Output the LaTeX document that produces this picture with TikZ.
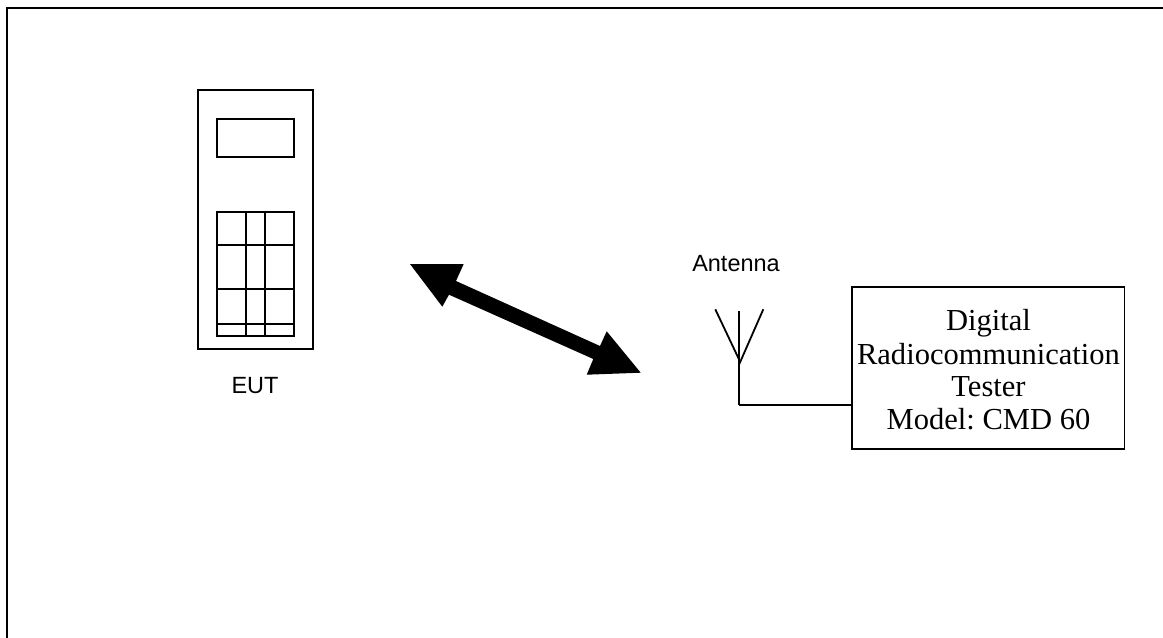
\documentclass[tikz,border=0pt]{standalone}
\usepackage{fontspec}
\setmainfont{Liberation Serif}
\newfontfamily\labelsans{Liberation Sans}
\begin{document}
\frenchspacing
\begin{tikzpicture}[x=0.75pt,y=-0.75pt,
  line/.style={draw=black,line width=1.4pt},
  thin line/.style={draw=black,line width=1.35pt},
  sanslabel/.style={font=\labelsans\fontsize{17.6}{20}\selectfont,anchor=base,inner sep=0pt},
  serifline/.style={font=\fontsize{22.9}{26}\selectfont,anchor=base,inner sep=0pt}]
\useasboundingbox (0,0) rectangle (1163,638);
% page frame: open at right and bottom
\coordinate (frameBL) at (6.8,638);
\coordinate (frameTL) at (6.8,7.8);
\coordinate (frameTR) at (1163,7.8);
\draw[line width=1.6pt] (frameBL) -- (frameTL) -- (frameTR);
% EUT
\draw[line] (197.7,90) rectangle (312.7,349);
\draw[thin line] (216.7,119) rectangle (294,157.3);
\coordinate (kpTL) at (216.7,211.7);
\coordinate (kpBR) at (294,336.3);
\draw[thin line] (kpTL) rectangle (kpBR);
\foreach \vx in {245.7,265} \draw[thin line] (\vx,211.7) -- (\vx,336.3);
\foreach \hy in {245.3,289.3,323.7} \draw[thin line] (216.7,\hy) -- (294,\hy);
\node[sanslabel] (eut) at (255,393.5) {EUT};
% double arrow
\fill[black] (410,264) -- (463.7,264) -- (456,281) -- (600,346) -- (606.7,331.3)
  -- (640.7,372.7) -- (586.7,374.7) -- (593.3,359) -- (449,294.7) -- (442.3,306.7) -- cycle;
% tester
\node[draw=black,line width=1.4pt,minimum width=204.2pt,minimum height=121.5pt,inner sep=0pt,anchor=north west] (tester) at (851.3,286) {};
\node[serifline] (t1) at (988.5,330) {Digital};
\node[serifline] (t2) at (988.5,364) {Radiocommunication};
\node[serifline] (t3) at (988.5,396.5) {Tester};
\node[serifline] (t4) at (988.5,429.5) {Model: CMD 60};
% antenna
\coordinate (antTop) at (739.3,311.3);
\coordinate (antFoot) at (739.3,405.2);
\coordinate (antL) at (715.3,309.3);
\coordinate (antR) at (763.3,309.3);
\coordinate (antLj) at (739.3,360);
\coordinate (antRj) at (739.3,364);
\draw[thin line] (antTop) -- (antFoot);
\draw[thin line] (antL) -- (antLj);
\draw[thin line] (antR) -- (antRj);
\draw[line] (antFoot) -- (antFoot -| tester.west);
\node[sanslabel] (ant) at (736,271.5) {Antenna};
\end{tikzpicture}
\end{document}
